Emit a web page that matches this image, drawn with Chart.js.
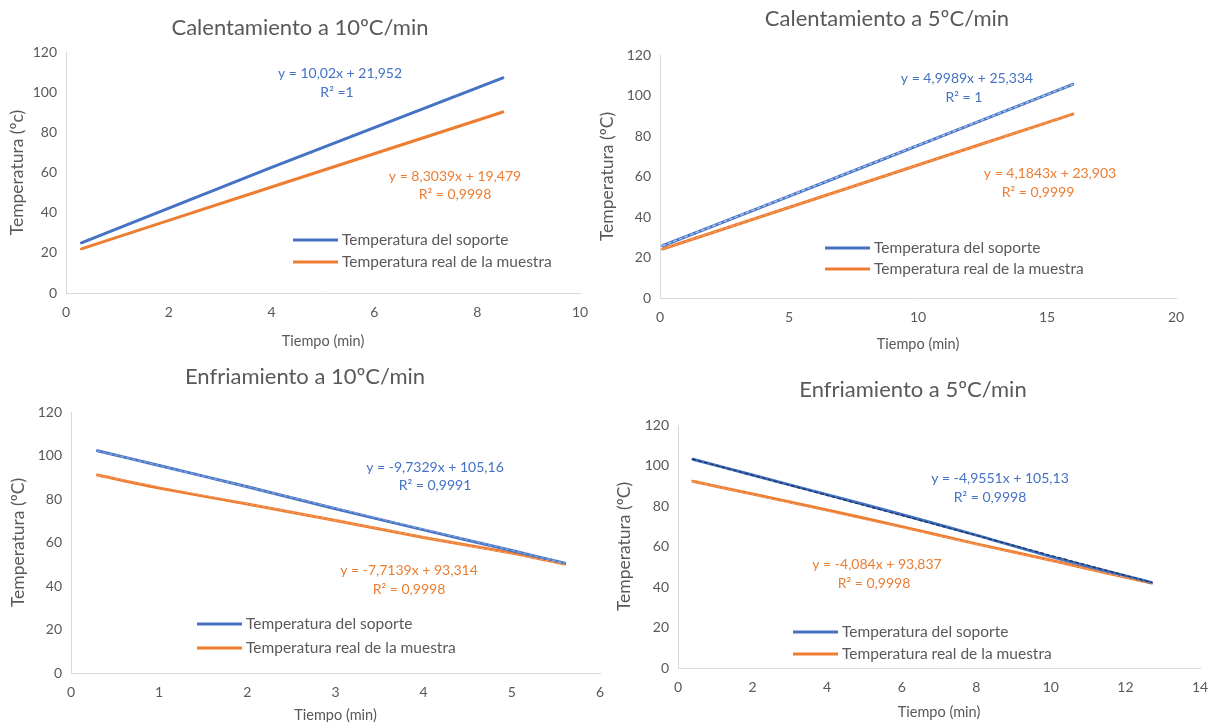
<!DOCTYPE html>
<html>
<head>
<meta charset="utf-8">
<script src="https://cdn.jsdelivr.net/npm/chart.js@4.4.0/dist/chart.umd.min.js"></script>
<style>
  body { margin: 0; background: #fff; width: 1217px; height: 722px; overflow: hidden; position: relative; }
  .box { position: absolute; }
</style>
</head>
<body>
<div class="box" id="b1" style="left:0px;top:0px;width:592px;height:360px"><canvas id="c1"></canvas></div>
<div class="box" id="b2" style="left:592px;top:0px;width:625px;height:360px"><canvas id="c2"></canvas></div>
<div class="box" id="b3" style="left:0px;top:360px;width:608px;height:372px"><canvas id="c3"></canvas></div>
<div class="box" id="b4" style="left:608px;top:360px;width:609px;height:362px"><canvas id="c4"></canvas></div>
<script>
const FONT = 'Lato, "Open Sans", sans-serif';
const GREY = '#595959';
const BLUE = '#4472C4';
const ORANGE = '#ED7D31';

// Calentamiento a 10ºC/min
const heat10Time = [0.3, 4, 8.5];
const heat10Support = [25.0, 62.5, 107.1];
const heat10Sample = [22.0, 52.8, 90.1];
const heat10XTicks = [0, 2, 4, 6, 8, 10];

// Calentamiento a 5ºC/min
const heat5Time = [0.1, 8, 16];
const heat5Support = [25.8, 65.3, 105.5];
const heat5Sample = [24.2, 57.3, 90.8];
const heat5XTicks = [0, 5, 10, 15, 20];

// Enfriamiento a 10ºC/min
const cool10Time = [0.3, 1, 2, 3, 4, 5, 5.6];
const cool10Support = [102.2, 95.4, 85.6, 75.5, 65.8, 56.3, 50.5];
const cool10Sample = [91.0, 85.0, 77.7, 70.1, 62.3, 55.2, 50.1];
const cool10XTicks = [0, 1, 2, 3, 4, 5, 6];

// Enfriamiento a 5ºC/min
const cool5Time = [0.4, 2, 4, 6, 8, 10, 12.7];
const cool5Support = [103.1, 95.3, 85.6, 75.8, 65.6, 55.0, 42.2];
const cool5Sample = [92.2, 85.9, 78.0, 69.8, 61.3, 53.2, 41.9];
const cool5XTicks = [0, 2, 4, 6, 8, 10, 12, 14];

const yTicks = [0, 20, 40, 60, 80, 100, 120];
const seriesNames = ['Temperatura del soporte', 'Temperatura real de la muestra'];

const chartTitles = ['Calentamiento a 10ºC/min', 'Calentamiento a 5ºC/min', 'Enfriamiento a 10ºC/min', 'Enfriamiento a 5ºC/min'];
const yTitles = ['Temperatura (ºc)', 'Temperatura (ºC)', 'Temperatura (ºC)', 'Temperatura (ºC)'];
const xTitle = 'Tiempo (min)';

const heat10Eq = ['y = 10,02x + 21,952', 'R² =1', 'y = 8,3039x + 19,479', 'R² = 0,9998'];
const heat5Eq = ['y = 4,9989x + 25,334', 'R² = 1', 'y = 4,1843x + 23,903', 'R² = 0,9999'];
const cool10Eq = ['y = -9,7329x + 105,16', 'R² = 0,9991', 'y = -7,7139x + 93,314', 'R² = 0,9998'];
const cool5Eq = ['y = -4,9551x + 105,13', 'R² = 0,9998', 'y = -4,084x + 93,837', 'R² = 0,9998'];

// layout (page pixels)
const panels = [
  { id: 'c1', box: [0, 0, 592, 360], area: [66, 52, 580, 293], yTitleX: 17, xTitleY: 341, title: [300, 28],
    time: heat10Time, support: heat10Support, sample: heat10Sample, xTicks: heat10XTicks, eq: heat10Eq,
    eqAt: [[340, 73], [337, 92], [455, 176], [455, 194]], legend: [293, 240, 22], trend: null },
  { id: 'c2', box: [592, 0, 625, 360], area: [660, 55, 1176, 298], yTitleX: 607, xTitleY: 344, title: [887, 19],
    time: heat5Time, support: heat5Support, sample: heat5Sample, xTicks: heat5XTicks, eq: heat5Eq,
    eqAt: [[967, 78], [964, 97], [1050, 173], [1038, 192]], legend: [825, 248, 21], trend: '#a9c1ea' },
  { id: 'c3', box: [0, 360, 608, 372], area: [71, 412, 600, 673], yTitleX: 18, xTitleY: 715, title: [305, 377],
    time: cool10Time, support: cool10Support, sample: cool10Sample, xTicks: cool10XTicks, eq: cool10Eq,
    eqAt: [[435, 467], [435, 485], [409, 570], [409, 589]], legend: [197, 624, 24], trend: '#7f9fd8' },
  { id: 'c4', box: [608, 360, 609, 362], area: [678, 425, 1200, 668], yTitleX: 624, xTitleY: 712, title: [913, 390],
    time: cool5Time, support: cool5Support, sample: cool5Sample, xTicks: cool5XTicks, eq: cool5Eq,
    eqAt: [[1000, 478], [990, 497], [877, 564], [874, 583]], legend: [793, 632, 22], trend: '#203864' }
];

const TICK_SIZE = 14, X_TITLE_SIZE = 14.5, Y_TITLE_SIZE = 17.5;
const TITLE_SIZE = 22, EQ_SIZE = 14, LEGEND_SIZE = 15.5;
const xTitleHalf = X_TITLE_SIZE * 1.2 / 2 + 4;
const yTitleHalf = Y_TITLE_SIZE * 1.2 / 2 + 4;

function textPlugin(p) {
  const ox = p.box[0], oy = p.box[1];
  return {
    id: 'sheetText',
    afterDraw(chart) {
      const ctx = chart.ctx;
      ctx.save();
      ctx.textBaseline = 'middle';
      ctx.textAlign = 'center';
      ctx.fillStyle = GREY;
      ctx.font = TITLE_SIZE + 'px ' + FONT;
      ctx.fillText(chartTitles[panels.indexOf(p)], p.title[0] - ox, p.title[1] - oy);

      ctx.font = EQ_SIZE + 'px ' + FONT;
      p.eq.forEach((t, i) => {
        ctx.fillStyle = i < 2 ? BLUE : ORANGE;
        ctx.fillText(t, p.eqAt[i][0] - ox, p.eqAt[i][1] - oy);
      });

      // legend
      const [lx, ly, gap] = p.legend;
      chart.data.datasets.filter(d => !d.isTrend).forEach((d, i) => {
        const y = ly + i * gap - oy;
        ctx.strokeStyle = d.borderColor;
        ctx.lineWidth = 3;
        ctx.beginPath();
        ctx.moveTo(lx - ox, y);
        ctx.lineTo(lx + 45 - ox, y);
        ctx.stroke();
        ctx.textAlign = 'left';
        ctx.fillStyle = GREY;
        ctx.font = LEGEND_SIZE + 'px ' + FONT;
        ctx.fillText(d.label, lx + 49 - ox, y);
      });
      ctx.restore();
    }
  };
}

function makeChart(p) {
  const [bx, by, bw, bh] = p.box;
  const [al, at, ar, ab] = p.area;
  const scaleLeft = p.yTitleX - yTitleHalf;
  const scaleBottom = p.xTitleY + xTitleHalf;
  const yw = al - scaleLeft;
  const xh = scaleBottom - ab;

  const pts = (xs, ys) => xs.map((x, i) => ({ x: x, y: ys[i] }));
  const ends = (xs, ys) => [{ x: xs[0], y: ys[0] }, { x: xs[xs.length - 1], y: ys[ys.length - 1] }];

  const datasets = [
    { label: seriesNames[0], data: pts(p.time, p.support), borderColor: BLUE, borderWidth: 3, order: 2 },
    { label: seriesNames[1], data: pts(p.time, p.sample), borderColor: ORANGE, borderWidth: 3, order: 3 }
  ];
  if (p.trend) {
    // dotted linear trendlines drawn over the measured series
    datasets.push({ label: 'trend1', isTrend: true, data: ends(p.time, p.support), borderColor: p.trend,
      borderWidth: 1.4, borderDash: [3, 3], order: 0 });
    datasets.push({ label: 'trend2', isTrend: true, data: ends(p.time, p.sample), borderColor: '#f4a46e',
      borderWidth: 1, borderDash: [3, 3], order: 1 });
  }

  new Chart(document.getElementById(p.id), {
    type: 'scatter',
    data: { datasets },
    options: {
      responsive: true,
      maintainAspectRatio: false,
      animation: false,
      showLine: true,
      elements: { point: { radius: 0 }, line: { tension: 0.2, borderCapStyle: 'round' } },
      layout: { padding: { left: scaleLeft - bx, top: at - by, right: bx + bw - ar, bottom: by + bh - scaleBottom } },
      plugins: { legend: { display: false }, title: { display: false }, tooltip: { enabled: false } },
      scales: {
        x: {
          type: 'linear',
          min: p.xTicks[0], max: p.xTicks[p.xTicks.length - 1],
          afterBuildTicks: s => { s.ticks = p.xTicks.map(v => ({ value: v })); },
          afterFit: s => { s.height = xh; s.paddingLeft = 0; s.paddingRight = 0; },
          grid: { display: false, drawTicks: false },
          border: { display: true, color: '#d9d9d9', width: 1 },
          ticks: { color: GREY, font: { family: FONT, size: TICK_SIZE }, padding: 11, maxRotation: 0 },
          title: { display: true, text: xTitle, color: GREY, font: { family: FONT, size: X_TITLE_SIZE } }
        },
        y: {
          type: 'linear',
          min: 0, max: 120,
          afterBuildTicks: s => { s.ticks = yTicks.map(v => ({ value: v })); },
          afterFit: s => { s.width = yw; s.paddingTop = 0; s.paddingBottom = 0; },
          grid: { display: false, drawTicks: false },
          border: { display: true, color: '#d9d9d9', width: 1 },
          ticks: { color: GREY, font: { family: FONT, size: TICK_SIZE }, padding: 9 },
          title: { display: true, text: yTitles[panels.indexOf(p)], color: GREY, font: { family: FONT, size: Y_TITLE_SIZE } }
        }
      }
    },
    plugins: [textPlugin(p)]
  });
}

panels.forEach(makeChart);
</script>
</body>
</html>
